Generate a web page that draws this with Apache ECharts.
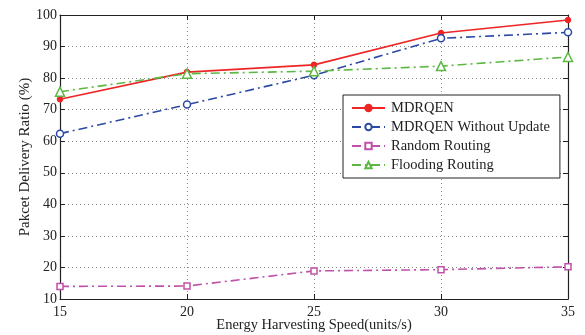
<!DOCTYPE html>
<html>
<head>
<meta charset="utf-8">
<script src="https://cdn.jsdelivr.net/npm/echarts@6/dist/echarts.min.js"></script>
<style>
  html, body { margin: 0; padding: 0; background: #fff; overflow: hidden; }
  #chart { width: 585px; height: 335px; }
</style>
</head>
<body>
<div id="chart"></div>
<script>
// Energy harvesting speed (units/s) on the x axis
const speeds = [15, 20, 25, 30, 35];

// Packet delivery ratio (%) for each routing scheme
const mdrqen = [73.3, 81.9, 84.2, 94.3, 98.4];
const mdrqenNoUpdate = [62.4, 71.6, 80.9, 92.6, 94.5];
const randomRouting = [14.0, 14.1, 18.9, 19.3, 20.2];
const floodingRouting = [75.7, 81.4, 82.2, 83.8, 86.7];

const seriesNames = ['MDRQEN', 'MDRQEN Without Update', 'Random Routing', 'Flooding Routing'];

const FONT = '"Liberation Serif", "Times New Roman", serif';
const TEXT = '#222';

function pairs(values) {
  return speeds.map((x, i) => [x, values[i]]);
}

const chart = echarts.init(document.getElementById('chart'), null, { renderer: 'canvas' });

const gridLine = { show: true, lineStyle: { color: '#888', type: [1, 3], width: 1 } };

function lineSeries(name, values, color, symbol, size, dash, fill) {
  return {
    name: name,
    type: 'line',
    data: pairs(values),
    symbol: symbol,
    symbolSize: size,
    showSymbol: true,
    animation: false,
    lineStyle: { color: color, width: 1.6, type: dash },
    itemStyle: { color: fill, borderColor: color, borderWidth: 1.5 },
    emphasis: { disabled: true }
  };
}

chart.setOption({
  backgroundColor: '#fff',
  animation: false,
  textStyle: { fontFamily: FONT, color: TEXT },
  grid: { left: 60, right: 17, top: 15, bottom: 36, containLabel: false, outerBoundsMode: 'none' },
  legend: {
    data: seriesNames,
    orient: 'vertical',
    left: 343,
    top: 95,
    padding: [5, 10, 5, 8],
    itemGap: 3,
    itemWidth: 33,
    itemHeight: 8,
    backgroundColor: '#fff',
    borderColor: '#222',
    borderWidth: 1,
    textStyle: { fontFamily: FONT, fontSize: 14.5, lineHeight: 16, color: TEXT, padding: [0, 0, 0, 1] }
  },
  xAxis: [
    {
      type: 'value', min: 15, max: 35, interval: 5,
      name: 'Energy Harvesting Speed(units/s)',
      nameLocation: 'middle', nameGap: 19, nameMoveOverlap: false,
      nameTextStyle: { fontFamily: FONT, fontSize: 14.5, color: TEXT },
      axisLine: { show: true, lineStyle: { color: '#222', width: 1.2 } },
      axisTick: { show: true, inside: true, length: 5, lineStyle: { color: '#222' } },
      axisLabel: { fontFamily: FONT, fontSize: 14, color: TEXT, margin: 6 },
      splitLine: gridLine
    },
    {
      type: 'value', min: 15, max: 35, interval: 5, position: 'top',
      axisLine: { show: true, onZero: false, lineStyle: { color: '#222', width: 1.2 } },
      axisTick: { show: true, inside: true, length: 5, lineStyle: { color: '#222' } },
      axisLabel: { show: false },
      splitLine: { show: false }
    }
  ],
  yAxis: [
    {
      type: 'value', min: 10, max: 100, interval: 10,
      name: 'Pakcet Delivery Ratio (%)',
      nameLocation: 'middle', nameGap: 27, nameMoveOverlap: false,
      nameTextStyle: { fontFamily: FONT, fontSize: 15, color: TEXT },
      axisLine: { show: true, lineStyle: { color: '#222', width: 1.2 } },
      axisTick: { show: true, inside: true, length: 5, lineStyle: { color: '#222' } },
      axisLabel: { fontFamily: FONT, fontSize: 14, color: TEXT, margin: 3 },
      splitLine: gridLine
    },
    {
      type: 'value', min: 10, max: 100, interval: 10, position: 'right',
      axisLine: { show: true, onZero: false, lineStyle: { color: '#222', width: 1.2 } },
      axisTick: { show: true, inside: true, length: 5, lineStyle: { color: '#222' } },
      axisLabel: { show: false },
      splitLine: { show: false }
    }
  ],
  series: [
    lineSeries(seriesNames[0], mdrqen, '#ee2526', 'circle', 5, 'solid', '#ee2526'),
    lineSeries(seriesNames[1], mdrqenNoUpdate, '#2b4aa6', 'circle', 7, [9, 4, 2, 4], '#fff'),
    lineSeries(seriesNames[2], randomRouting, '#c050a9', 'rect', 6, [9, 4, 2, 4], '#fff'),
    lineSeries(seriesNames[3], floodingRouting, '#5cb843', 'triangle', 9, [9, 4, 2, 4], '#fff')
  ]
});
</script>
</body>
</html>
